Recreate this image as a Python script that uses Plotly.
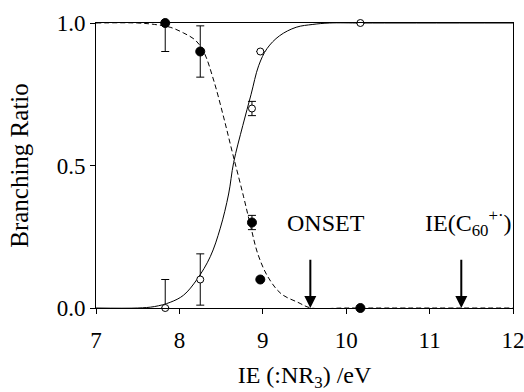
import plotly.graph_objects as go

# Data points (IE in eV, branching ratio)
ie_pts = [7.83, 8.25, 8.87, 8.97, 10.17]
filled_y = [1.0, 0.90, 0.30, 0.10, 0.0]
filled_err_plus = [0.0, 0.09, 0.025, 0.0, 0.0]
filled_err_minus = [0.10, 0.09, 0.025, 0.0, 0.0]
open_y = [0.0, 0.10, 0.70, 0.90, 1.0]
open_err_plus = [0.10, 0.09, 0.025, 0.0, 0.0]
open_err_minus = [0.0, 0.09, 0.025, 0.0, 0.0]

# Fitted curves
solid_x = [7.0, 7.5, 7.7, 7.89, 8.05, 8.21, 8.37, 8.49, 8.59, 8.65, 8.76, 8.86, 8.95, 9.05, 9.2, 9.4, 9.6, 9.8, 10.2, 12.0]
solid_y = [0.0, 0.0, 0.005, 0.02, 0.045, 0.10, 0.18, 0.28, 0.40, 0.51, 0.64, 0.75, 0.85, 0.91, 0.955, 0.985, 0.995, 1.0, 1.0, 1.0]
dash_x = [7.0, 7.5, 7.7, 7.89, 8.05, 8.19, 8.29, 8.41, 8.53, 8.64, 8.77, 8.86, 8.94, 9.06, 9.22, 9.42, 9.58, 10.0, 12.0]
dash_y = [1.0, 1.0, 0.995, 0.985, 0.965, 0.94, 0.90, 0.80, 0.67, 0.54, 0.39, 0.28, 0.19, 0.11, 0.05, 0.02, 0.0, 0.0, 0.0]

# Arrow markers
arrow_x = [9.57, 11.38]
arrow_top = 0.175
label_x = [9.76, 11.47]
label_y = 0.30
labels = ["ONSET", "IE(C<sub>60</sub><sup>+·</sup>)"]

x_ticks = [7, 8, 9, 10, 11, 12]
y_ticks = [0.0, 0.5, 1.0]

FONT = "Liberation Serif, Times New Roman, serif"

fig = go.Figure()
fig.add_trace(go.Scatter(x=solid_x, y=solid_y, mode="lines", line=dict(color="black", width=1, shape="spline"),
                         showlegend=False, hoverinfo="skip"))
fig.add_trace(go.Scatter(x=dash_x, y=dash_y, mode="lines",
                         line=dict(color="black", width=1, shape="spline", dash="5px,3px"),
                         showlegend=False, hoverinfo="skip"))
fig.add_trace(go.Scatter(x=ie_pts, y=filled_y, mode="markers",
                         marker=dict(color="black", size=9, line=dict(color="black", width=1)),
                         error_y=dict(type="data", symmetric=False, array=filled_err_plus,
                                      arrayminus=filled_err_minus, color="black", thickness=1, width=4),
                         cliponaxis=False, showlegend=False))
fig.add_trace(go.Scatter(x=ie_pts, y=open_y, mode="markers",
                         marker=dict(color="white", size=7, line=dict(color="black", width=1)),
                         error_y=dict(type="data", symmetric=False, array=open_err_plus,
                                      arrayminus=open_err_minus, color="black", thickness=1, width=4),
                         cliponaxis=False, showlegend=False))

for ax_x in arrow_x:
    fig.add_annotation(x=ax_x, y=0, ax=ax_x, ay=arrow_top, xref="x", yref="y", axref="x", ayref="y",
                       showarrow=True, arrowhead=2, arrowsize=1.2, arrowwidth=2, arrowcolor="black", text="")
for lx, lt in zip(label_x, labels):
    fig.add_annotation(x=lx, y=label_y, xref="x", yref="y", text=lt, showarrow=False,
                       font=dict(family=FONT, size=24, color="black"))

fig.update_layout(
    width=524, height=392,
    margin=dict(l=96, r=11, t=23, b=84),
    paper_bgcolor="white", plot_bgcolor="white",
    font=dict(family=FONT, size=23, color="black"),
)
fig.update_xaxes(range=[7, 12], tickvals=x_ticks, ticks="outside", ticklen=5, tickcolor="black",
                 showline=True, linecolor="black", linewidth=1, mirror=True, showgrid=False, zeroline=False,
                 ticklabeloverflow="allow", ticklabelstandoff=6, automargin=False,
                 title=dict(text="IE (:NR<sub>3</sub>) /eV", font=dict(size=24), standoff=20),
                 tickfont=dict(size=23))
fig.update_yaxes(range=[0, 1], tickvals=y_ticks, tickformat=".1f", ticks="outside", ticklen=5, tickcolor="black",
                 showline=True, linecolor="black", linewidth=1, mirror=True, showgrid=False, zeroline=False,
                 automargin=False,
                 title=dict(text="Branching Ratio", font=dict(size=25), standoff=20),
                 tickfont=dict(size=23))

fig.write_html("out.html")
